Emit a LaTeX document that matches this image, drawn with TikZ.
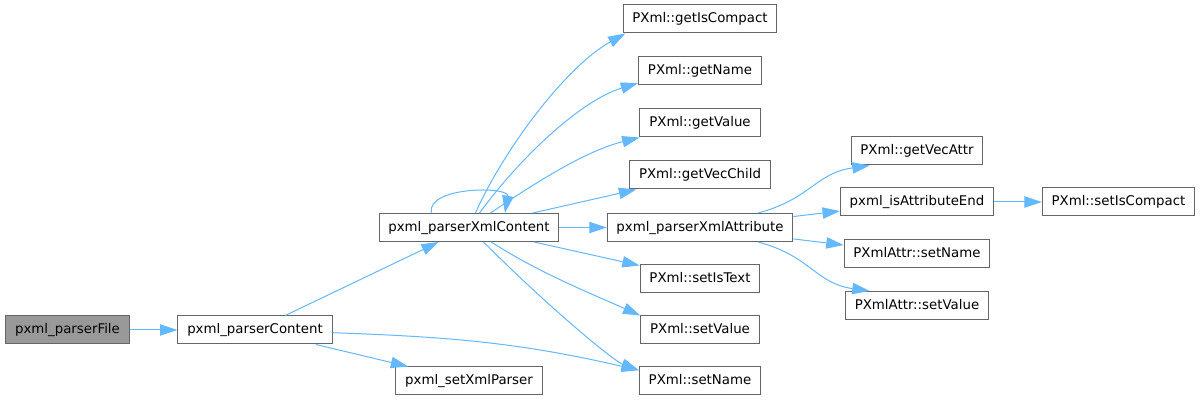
\documentclass[tikz,border=0pt]{standalone}
\usepackage{fontspec}
\setmainfont{DejaVu Sans}
\usetikzlibrary{arrows.meta}
\definecolor{callblue}{HTML}{63B8FF}
\definecolor{boxgray}{HTML}{666666}
\definecolor{rootgray}{HTML}{999999}
\tikzset{
  fn/.style={draw=boxgray, line width=0.75pt, fill=white, inner xsep=7pt, inner ysep=0pt,
    minimum height=21pt, text height=7.5pt, text depth=2pt, font=\fontsize{10}{12}\selectfont},
  call/.style={color=callblue, line width=0.75pt, -{Triangle[length=13pt,width=8.5pt]}}
}
\begin{document}
\begin{tikzpicture}[x=0.75pt, y=0.75pt]
    \path [use as bounding box, fill=white] (0,0) rectangle (1200,-402);
    \node[fn, fill=rootgray] (pf) at (67.5,-330) {pxml\_parserFile};
    \node[fn] (pc) at (255,-330) {pxml\_parserContent};
    \node[fn] (xmlc) at (469,-227.5) {pxml\_parserXmlContent};
    \node[fn] (sxp) at (469,-381) {pxml\_setXmlParser};
    \node[fn] (gic) at (700,-19) {PXml::getIsCompact};
    \node[fn] (gnm) at (700,-71) {PXml::getName};
    \node[fn] (gval) at (700,-123) {PXml::getValue};
    \node[fn] (gvc) at (700,-175) {PXml::getVecChild};
    \node[fn] (pxa) at (700,-227.5) {pxml\_parserXmlAttribute};
    \node[fn] (sit) at (700,-279) {PXml::setIsText};
    \node[fn] (sval) at (700,-330) {PXml::setValue};
    \node[fn] (snm) at (700,-381) {PXml::setName};
    \node[fn] (gva) at (917,-151) {PXml::getVecAttr};
    \node[fn] (iae) at (917,-202) {pxml\_isAttributeEnd};
    \node[fn] (asn) at (917,-254) {PXmlAttr::setName};
    \node[fn] (asv) at (917,-305.5) {PXmlAttr::setValue};
    \node[fn] (sic) at (1118.5,-202) {PXml::setIsCompact};
    \path (pf) edge[call] (pc);
    \path (pc) edge[call] (xmlc);
    \path (pc) edge[call] (sxp);
    \path (pc) edge[call, out=-2, in=167] (snm.170);
    \path (xmlc.159) edge[call, out=100, in=80, looseness=0.95] (xmlc.22);
    \path (xmlc) edge[call, out=66, in=209, looseness=0.75] (gic.191);
    \path (xmlc) edge[call, out=54, in=197, looseness=0.78] (gnm.191);
    \path (xmlc) edge[call, out=34, in=194, looseness=0.85] (gval.south west);
    \path (xmlc) edge[call] (gvc);
    \path (xmlc) edge[call] (pxa);
    \path (xmlc) edge[call] (sit);
    \path (xmlc) edge[call, out=-33, in=156, looseness=0.85] (sval.north west);
    \path (xmlc) edge[call, out=-45, in=160, out distance=75pt, in distance=19pt] (snm.170);
    \path (pxa.14) edge[call, out=15, in=188, looseness=1.15] (gva.197);
    \path (pxa) edge[call] (iae);
    \path (pxa) edge[call] (asn);
    \path (pxa.-14) edge[call, out=-15, in=172, looseness=1.15] (asv.163);
    \path (iae) edge[call] (sic);
\end{tikzpicture}
\end{document}
